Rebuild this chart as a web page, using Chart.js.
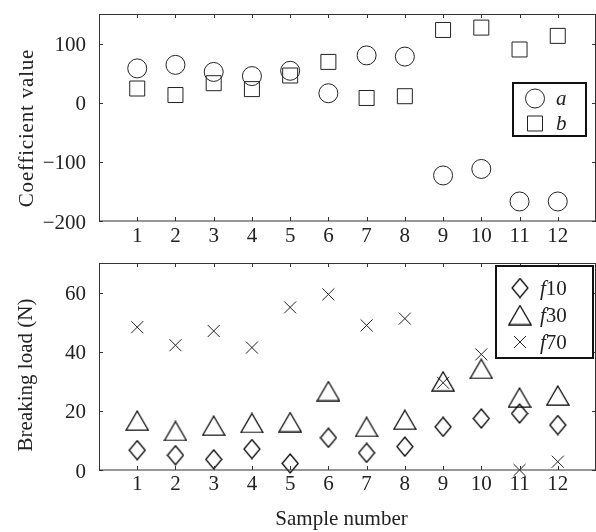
<!DOCTYPE html>
<html><head><meta charset="utf-8">
<script src="https://cdn.jsdelivr.net/npm/chart.js@4"></script>
<style>
html,body{margin:0;padding:0;background:#fff;}
#wrap{position:relative;width:596px;height:532px;overflow:hidden;}
#c1{position:absolute;left:0;top:0;}
#c2{position:absolute;left:0;top:250px;}
</style></head><body>
<div id="wrap"><canvas id="c1" width="596" height="250"></canvas><canvas id="c2" width="596" height="282"></canvas></div>
<script>
// ---- data ----
const samples = [1,2,3,4,5,6,7,8,9,10,11,12];
const coefA = [58,64,52,45,54,16,80,78,-123,-112,-167,-167];
const coefB = [24,13,33,23,46,69,8,11,123,127,90,113];
const f10 = [6.7,5.0,3.6,7.1,2.2,10.9,5.8,7.9,14.6,17.4,19.1,15.2];
const f30 = [16.7,13.2,15.0,15.9,16.2,26.7,14.6,17.0,30.0,34.2,24.5,25.2];
const f70 = [48.3,42.2,47.0,41.4,55.0,59.4,48.9,51.2,29.5,39.1,0.0,2.8];
const xTicks = [1,2,3,4,5,6,7,8,9,10,11,12];
const yTicksTop = [-200,-100,0,100];
const yTicksBottom = [0,20,40,60];
const topSeriesNames = ['a','b'];
const bottomSeriesNames = ['10','30','70'];

// ---- styles ----
const INK = '#222';
const FONT = '"Liberation Serif", "Times New Roman", serif';

function makeShape(w, h, pts){
  const c = document.createElement('canvas');
  c.width = w; c.height = h;
  const g = c.getContext('2d');
  g.strokeStyle = '#000'; g.lineWidth = 1.25;
  g.beginPath();
  pts.forEach((p,i)=> i ? g.lineTo(p[0],p[1]) : g.moveTo(p[0],p[1]));
  g.closePath(); g.stroke();
  return c;
}
const triShape = makeShape(24, 21, [[12,1],[23,20],[1,20]]);
const diaShape = makeShape(18, 21, [[9,1],[17,10.5],[9,20],[1,10.5]]);

function pts(ys){ return samples.map((x,i)=>({x:x, y:ys[i]})); }

const framePlugin = {
  id: 'frame',
  afterDatasetsDraw(chart, args, opts){
    const ctx = chart.ctx, a = chart.chartArea;
    const xs = chart.scales.x, ys = chart.scales.y;
    ctx.save();
    ctx.strokeStyle = '#333'; ctx.lineWidth = 1;
    ctx.strokeRect(a.left + 0.5, a.top + 0.5, a.right - a.left - 1, a.bottom - a.top - 0.5);
    ctx.beginPath();
    const L = 4;
    xs.ticks.forEach(t => {
      const px = Math.round(xs.getPixelForValue(t.value)) + 0.5;
      ctx.moveTo(px, a.bottom); ctx.lineTo(px, a.bottom - L);
      ctx.moveTo(px, a.top); ctx.lineTo(px, a.top + L);
    });
    ys.ticks.forEach(t => {
      const py = Math.round(ys.getPixelForValue(t.value)) + 0.5;
      ctx.moveTo(a.left, py); ctx.lineTo(a.left + L, py);
      ctx.moveTo(a.right, py); ctx.lineTo(a.right - L, py);
    });
    ctx.stroke();
    ctx.restore();
  }
};

const textPlugin = {
  id: 'texts',
  afterDraw(chart, args, opts){
    const ctx = chart.ctx;
    ctx.save();
    ctx.fillStyle = INK;
    (opts.items || []).forEach(it => {
      ctx.save();
      ctx.font = '21px ' + FONT;
      if (it.spacing) ctx.letterSpacing = it.spacing;
      ctx.textAlign = 'center';
      ctx.textBaseline = 'alphabetic';
      ctx.translate(it.x, it.y);
      if (it.rotate) ctx.rotate(-Math.PI/2);
      ctx.fillText(it.text, 0, 0);
      ctx.restore();
    });
    ctx.restore();
  }
};

const legendPlugin = {
  id: 'boxLegend',
  afterDraw(chart, args, opts){
    const ctx = chart.ctx;
    const b = opts.box;
    ctx.save();
    ctx.fillStyle = '#fff';
    ctx.fillRect(b[0], b[1], b[2], b[3]);
    ctx.strokeStyle = '#111'; ctx.lineWidth = 2;
    ctx.strokeRect(b[0], b[1], b[2], b[3]);
    chart.data.datasets.forEach((ds, i) => {
      const row = opts.rows[i];
      ctx.save();
      ctx.strokeStyle = INK; ctx.fillStyle = 'rgba(0,0,0,0)'; ctx.lineWidth = 1;
      Chart.helpers.drawPoint(ctx, {pointStyle: ds.pointStyle, radius: ds.pointRadius, rotation: 0, borderWidth: 1}, opts.markerX, row);
      ctx.restore();
      ctx.fillStyle = INK;
      ctx.textBaseline = 'middle';
      ctx.textAlign = 'left';
      let x = opts.textX;
      (ds.parts || []).forEach(p => {
        ctx.font = (p.italic ? 'italic ' : '') + '21px ' + FONT;
        ctx.fillText(p.t, x, row + 1);
        x += ctx.measureText(p.t).width;
      });
    });
    ctx.restore();
  }
};

function baseOptions(yMin, yMax, yTicks, xHeight, padTop, xPad, items, legendOpts){
  return {
    responsive: false,
    animation: false,
    events: [],
    layout: {autoPadding: false, padding: {top: padTop, left: 0, right: 0, bottom: 0}},
    plugins: {
      legend: {display: false},
      tooltip: {enabled: false},
      texts: {items: items},
      boxLegend: legendOpts
    },
    scales: {
      x: {
        type: 'linear', min: 0, max: 13,
        grid: {display: false, drawTicks: false},
        border: {display: false},
        afterBuildTicks: s => { s.ticks = xTicks.map(v => ({value: v})); },
        afterFit: s => { s.height = xHeight; s.paddingLeft = 0; s.paddingRight = 0; },
        ticks: {padding: xPad, color: INK, font: {family: FONT, size: 21}, maxRotation: 0, autoSkip: false}
      },
      y: {
        type: 'linear', min: yMin, max: yMax,
        grid: {display: false, drawTicks: false},
        border: {display: false},
        afterBuildTicks: s => { s.ticks = yTicks.map(v => ({value: v})); },
        afterFit: s => { s.width = 99; s.paddingTop = 0; s.paddingBottom = 0; },
        ticks: {padding: 13, color: INK, labelOffset: 2, font: {family: FONT, size: 21},
                callback: v => String(v).replace('-', '\u2212')}
      }
    }
  };
}

const common = {showLine: false, borderColor: INK, backgroundColor: 'rgba(0,0,0,0)', borderWidth: 1, clip: false};

new Chart(document.getElementById('c1'), {
  type: 'scatter',
  data: {datasets: [
    Object.assign({}, common, {label: topSeriesNames[0], data: pts(coefA), pointStyle: 'circle', pointRadius: 9.5, parts: [{t: topSeriesNames[0], italic: true}]}),
    Object.assign({}, common, {label: topSeriesNames[1], data: pts(coefB), pointStyle: 'rect', pointRadius: 10.6, parts: [{t: topSeriesNames[1], italic: true}]})
  ]},
  options: baseOptions(-200, 150, yTicksTop, 29, 14, 3,
    [{text: 'Coefficient value', x: 33, y: 128, rotate: true, spacing: '0.8px'}],
    {box: [513, 83, 73, 53], rows: [98.5, 123.5], markerX: 535, textX: 556}),
  plugins: [framePlugin, textPlugin, legendPlugin]
});

new Chart(document.getElementById('c2'), {
  type: 'scatter',
  data: {datasets: [
    Object.assign({}, common, {label: 'f' + bottomSeriesNames[0], data: pts(f10), pointStyle: diaShape, pointRadius: 9, parts: [{t: 'f', italic: true}, {t: bottomSeriesNames[0]}]}),
    Object.assign({}, common, {label: 'f' + bottomSeriesNames[1], data: pts(f30), pointStyle: triShape, pointRadius: 9, parts: [{t: 'f', italic: true}, {t: bottomSeriesNames[1]}]}),
    Object.assign({}, common, {label: 'f' + bottomSeriesNames[2], data: pts(f70), pointStyle: 'crossRot', pointRadius: 8.5, parts: [{t: 'f', italic: true}, {t: bottomSeriesNames[2]}]})
  ]},
  options: baseOptions(0, 70, yTicksBottom, 62, 13, 2,
    [{text: 'Breaking load (N)', x: 32, y: 125, rotate: true},
     {text: 'Sample number', x: 341.5, y: 275, rotate: false}],
    {box: [496, 16, 97, 92], rows: [38, 65, 92], markerX: 520, textX: 540}),
  plugins: [framePlugin, textPlugin, legendPlugin]
});
</script>
</body></html>
